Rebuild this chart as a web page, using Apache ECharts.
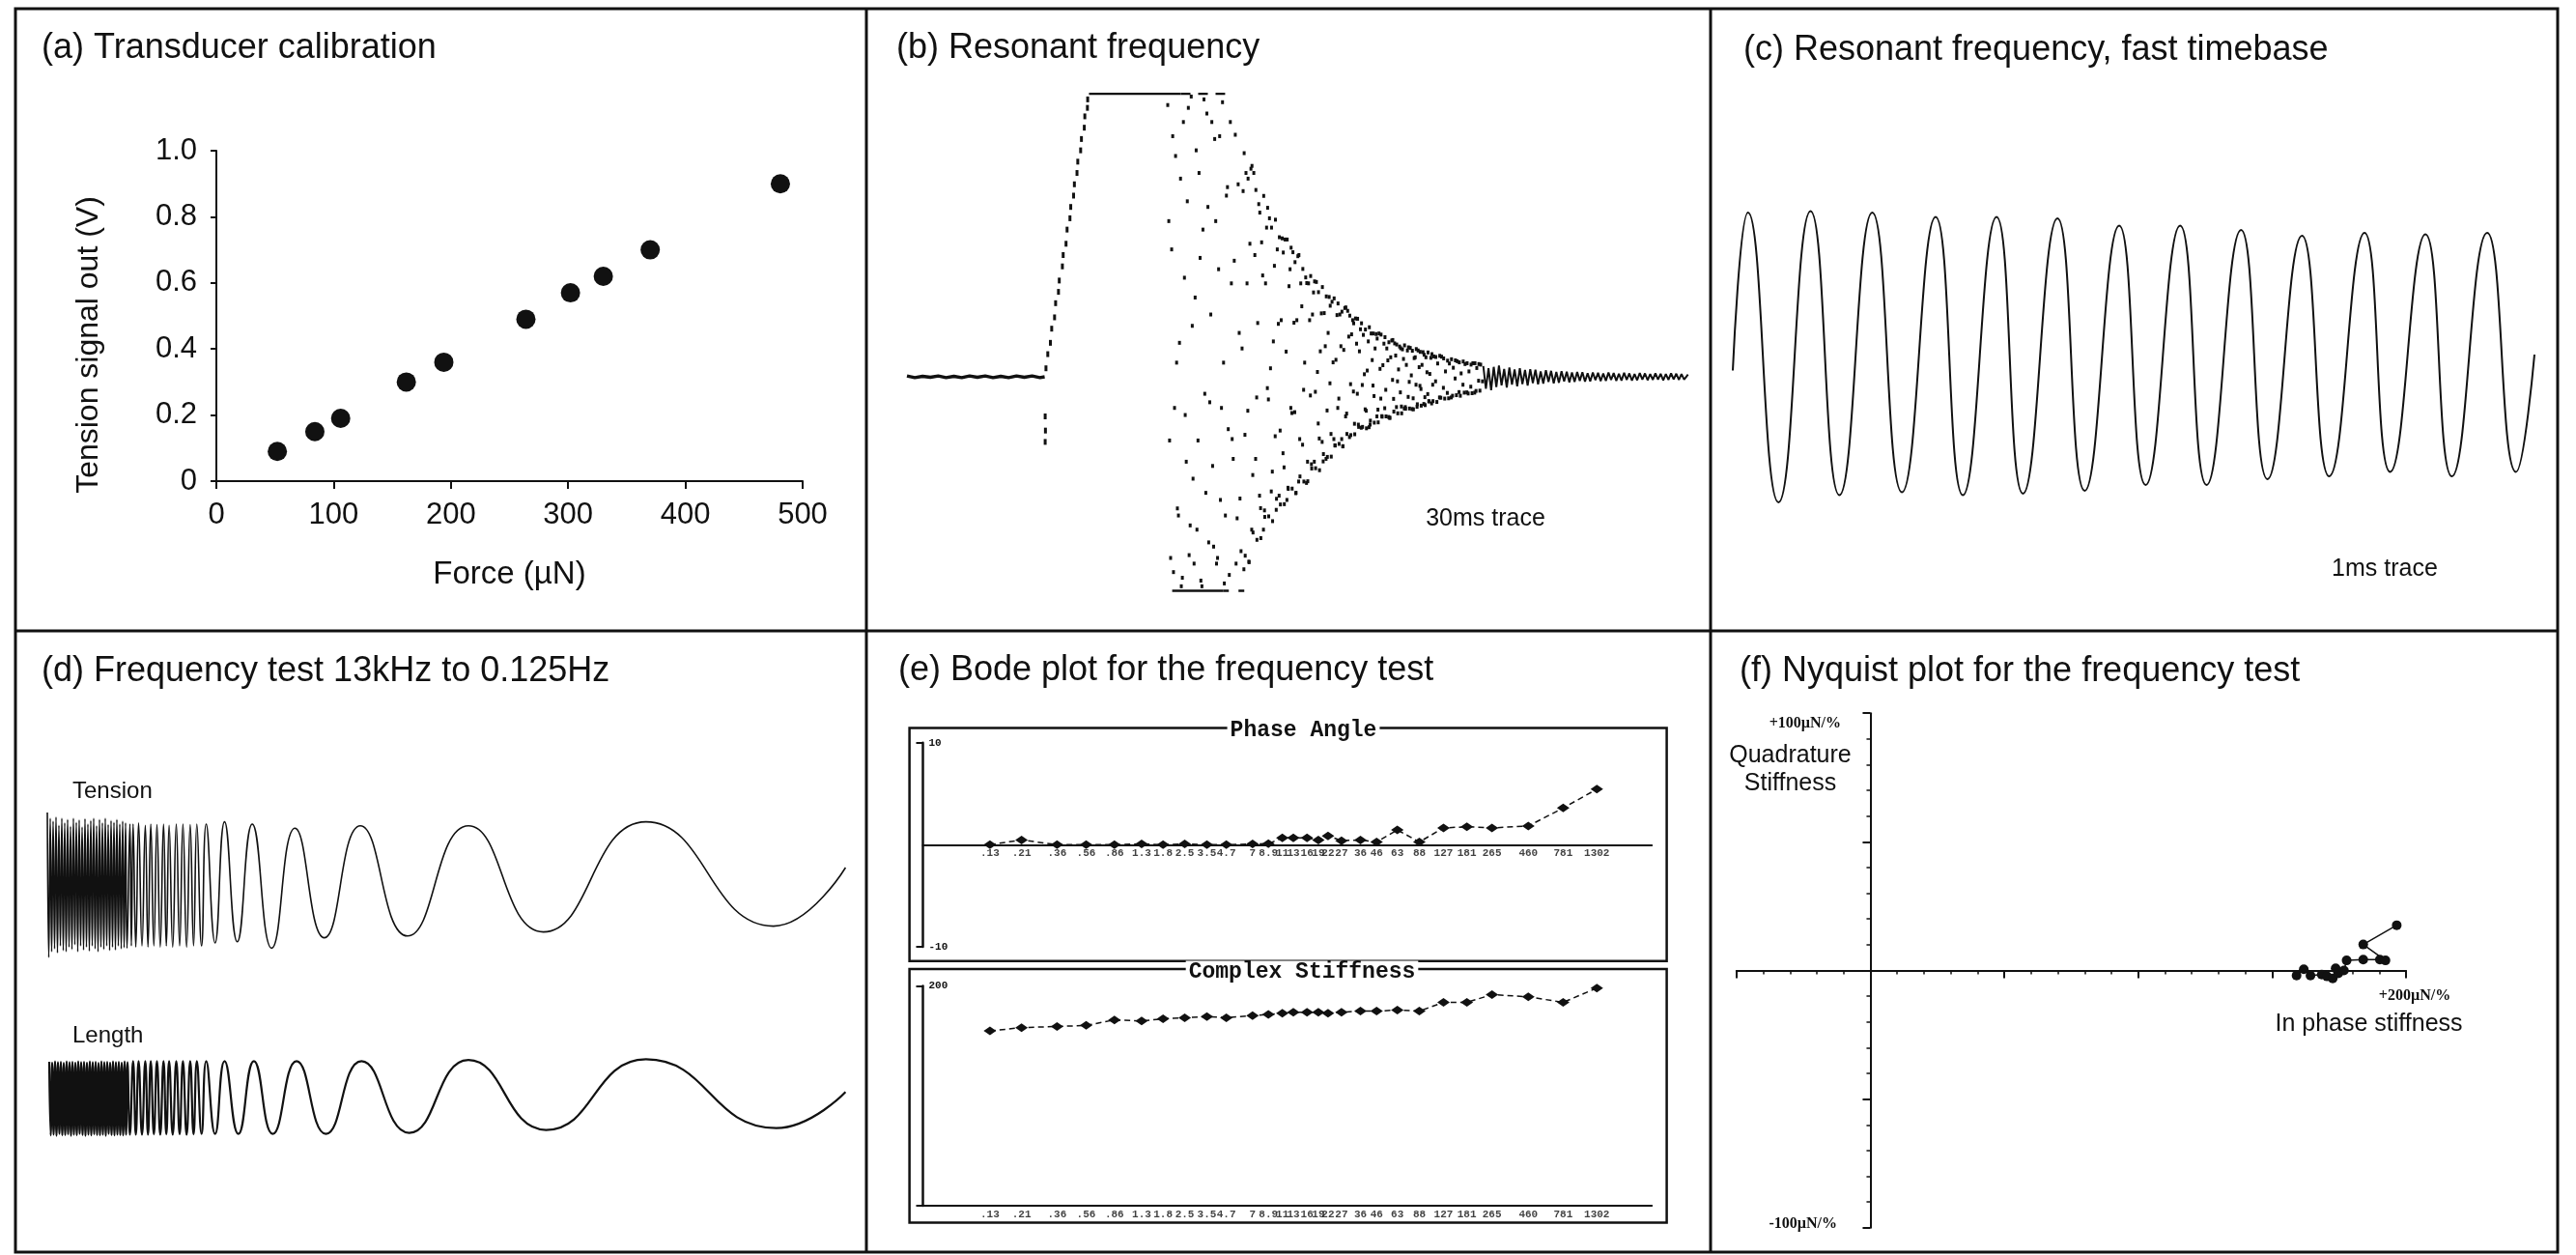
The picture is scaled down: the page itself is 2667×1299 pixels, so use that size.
<!DOCTYPE html>
<html>
<head>
<meta charset="utf-8">
<title>Transducer and frequency tests</title>
<script src="https://cdn.jsdelivr.net/npm/echarts@6/dist/echarts.min.js"></script>
<style>
  html, body { margin: 0; padding: 0; background: #fff; }
  #chart { width: 2667px; height: 1299px; }
</style>
</head>
<body>
<div id="chart"></div>
<script>
// ---------- (a) Transducer calibration ----------
const calForce  = [52, 84, 106, 162, 194, 264, 302, 330, 370, 481];
const calSignal = [0.09, 0.15, 0.19, 0.30, 0.36, 0.49, 0.57, 0.62, 0.70, 0.90];
const calXTicks = ['0', '100', '200', '300', '400', '500'];
const calYTicks = ['0', '0.2', '0.4', '0.6', '0.8', '1.0'];

// ---------- (b) Resonant frequency, 30 ms trace (time ms, signal) ----------
const resBaseline = [[0,0.003],[0.3,-0.003],[0.6,0.002],[0.9,-0.002],[1.2,0.003],[1.5,-0.003],[1.8,0.002],
  [2.1,-0.003],[2.4,0.003],[2.7,-0.002],[3.0,0.003],[3.3,-0.003],[3.6,0.002],[3.9,-0.003],[4.2,0.003],
  [4.5,-0.002],[4.8,0.003],[5.1,-0.003],[5.28,0.0]];
const resRamp = [[5.30,-0.14],[5.31,-0.19],[5.30,-0.23],[5.33,0.03],[5.40,0.08],[5.50,0.12],[5.55,0.17],
  [5.66,0.21],[5.70,0.26],[5.81,0.30],[5.84,0.34],[5.96,0.39],[5.99,0.43],[6.10,0.47],[6.14,0.52],
  [6.25,0.56],[6.28,0.60],[6.39,0.64],[6.42,0.68],[6.52,0.72],[6.55,0.76],[6.66,0.80],[6.69,0.84],
  [6.80,0.88],[6.82,0.92],[6.92,0.95],[6.93,0.98]];
const resTopRail = [[6.98,1.0],[10.5,1.0]];
const resTopRailBroken = [[10.5,1.0],[12.2,1.0]];
const resBottomRail = [[10.17,-0.756],[12.12,-0.756]];
const resBottomRailBroken = [[12.12,-0.756],[12.94,-0.756]];
const resFanCore = [[10.0,0.96],[10.07,-0.225],[10.15,0.45],[10.22,-0.69],[10.3,0.78],[10.37,-0.465],
  [10.45,0.12],[10.52,-0.74],[10.6,0.90],[10.67,-0.135],[10.75,0.62],[10.82,-0.63],[10.9,0.99],[10.97,-0.36],
  [11.05,0.28],[11.12,-0.54],[11.2,0.72],[11.27,-0.72],[11.35,0.52],[11.42,-0.06],[11.5,0.93],[11.57,-0.585],
  [11.65,0.22],[11.72,-0.315],[11.8,0.84],[11.87,-0.66],[11.95,0.38],[12.02,-0.435],[12.1,0.97],[12.17,-0.73],
  [12.25,0.64],[12.32,-0.185],[12.4,0.90],[12.47,-0.22],[12.55,0.41],[12.62,-0.66],[12.7,0.68],[12.77,-0.43],
  [12.85,0.10],[12.92,-0.68],[13.0,0.72],[13.07,-0.12],[13.15,0.47],[13.22,-0.54],[13.3,0.72],[13.37,-0.29],
  [13.45,0.19],[13.52,-0.42],[13.6,0.475],[13.67,-0.54],[13.75,0.33],[13.82,-0.04],[13.9,0.56],[13.97,-0.405],
  [14.05,0.125],[14.12,-0.21],[14.2,0.45],[14.27,-0.42],[14.35,0.20],[14.42,-0.27],[14.5,0.485],[14.57,-0.435],
  [14.65,0.32],[14.72,-0.11],[14.8,0.44],[14.87,-0.125],[14.95,0.20],[15.02,-0.37],[15.1,0.33],[15.17,-0.24],
  [15.25,0.05],[15.32,-0.375],[15.4,0.33],[15.47,-0.066],[15.55,0.22],[15.62,-0.30],[15.7,0.335],[15.77,-0.165],
  [15.85,0.09],[15.92,-0.23],[16.0,0.225],[16.07,-0.29],[16.15,0.155],[16.22,-0.023],[16.3,0.265],[16.37,-0.22],
  [16.45,0.06],[16.52,-0.11],[16.6,0.22],[16.67,-0.22],[16.75,0.095],[16.82,-0.14],[16.9,0.233],[16.97,-0.213],
  [17.05,0.15],[17.12,-0.052],[17.2,0.206],[17.27,-0.06],[17.35,0.09],[17.42,-0.18],[17.5,0.148],[17.57,-0.115],
  [17.65,0.022],[17.72,-0.178],[17.8,0.153],[17.87,-0.031],[17.95,0.10],[18.02,-0.14],[18.1,0.153],[18.17,-0.077],
  [18.25,0.041],[18.32,-0.111],[18.4,0.10],[18.47,-0.142],[18.55,0.069],[18.62,-0.011],[18.7,0.118],[18.77,-0.107],
  [18.85,0.026],[18.92,-0.055],[19.0,0.097],[19.07,-0.112],[19.15,0.042],[19.22,-0.071],[19.3,0.102],[19.37,-0.114],
  [19.45,0.066],[19.52,-0.028],[19.6,0.093],[19.67,-0.032],[19.75,0.042],[19.82,-0.096],[19.9,0.069],[19.97,-0.061],
  [20.05,0.01],[20.12,-0.094],[20.2,0.072],[20.27,-0.016],[20.35,0.047],[20.42,-0.073],[20.5,0.071],[20.57,-0.039],
  [20.65,0.019],[20.72,-0.057],[20.8,0.047],[20.87,-0.073],[20.95,0.032],[21.02,-0.006],[21.1,0.055],[21.17,-0.054],
  [21.25,0.012],[21.32,-0.028],[21.4,0.045],[21.47,-0.055],[21.55,0.019],[21.62,-0.035],[21.7,0.048],[21.77,-0.056],
  [21.85,0.031],[21.92,-0.014],[22.0,0.043],[22.07,-0.016]];
const resFanMid = [[10.04,0.55],[10.11,-0.64],[10.19,0.85],[10.26,-0.11],[10.34,0.05],[10.41,-0.49],
  [10.49,0.70],[10.56,-0.71],[10.64,0.35],[10.71,-0.30],[10.79,0.95],[10.86,-0.525],[10.94,0.18],[11.01,-0.66],
  [11.09,0.80],[11.16,-0.225],[11.24,0.42],[11.31,-0.74],[11.39,0.98],[11.46,-0.41],[11.54,0.60],[11.61,-0.09],
  [11.69,0.90],[11.76,-0.60],[11.84,0.55],[11.91,-0.64],[11.99,0.85],[12.06,-0.11],[12.14,0.05],[12.21,-0.49],
  [12.29,0.67],[12.36,-0.70],[12.44,0.33],[12.51,-0.29],[12.59,0.855],[12.66,-0.50],[12.74,0.155],[12.81,-0.616],
  [12.89,0.656],[12.96,-0.205],[13.04,0.33],[13.11,-0.653],[13.19,0.735],[13.26,-0.347],[13.34,0.43],[13.41,-0.073],
  [13.49,0.61],[13.56,-0.464],[13.64,0.358],[13.71,-0.472],[13.79,0.527],[13.86,-0.08],[13.94,0.03],[14.01,-0.335],
  [14.09,0.392],[14.16,-0.47],[14.24,0.187],[14.31,-0.19],[14.39,0.489],[14.46,-0.32],[14.54,0.089],[14.61,-0.392],
  [14.69,0.38],[14.76,-0.128],[14.84,0.191],[14.91,-0.411],[14.99,0.426],[15.06,-0.22],[15.14,0.249],[15.21,-0.046],
  [15.29,0.351],[15.36,-0.30],[15.44,0.20],[15.51,-0.309],[15.59,0.298],[15.66,-0.053],[15.74,0.017],[15.81,-0.218],
  [15.89,0.224],[15.96,-0.299],[16.04,0.108],[16.11,-0.119],[16.19,0.282],[16.26,-0.202],[16.34,0.051],[16.41,-0.242],
  [16.49,0.218],[16.56,-0.077],[16.64,0.108],[16.71,-0.246],[16.79,0.243],[16.86,-0.13],[16.94,0.142],[17.01,-0.026],
  [17.09,0.20],[17.16,-0.166],[17.24,0.117],[17.31,-0.169],[17.39,0.168],[17.46,-0.029],[17.54,0.009],[17.61,-0.12],
  [17.69,0.125],[17.76,-0.169],[17.84,0.059],[17.91,-0.068],[17.99,0.151],[18.06,-0.116],[18.14,0.028],[18.21,-0.139],
  [18.29,0.117],[18.36,-0.046],[18.44,0.058],[18.51,-0.145],[18.59,0.128],[18.66,-0.078],[18.74,0.075],[18.81,-0.016],
  [18.89,0.107],[18.96,-0.105],[19.04,0.063],[19.11,-0.107],[19.19,0.093],[19.26,-0.018],[19.34,0.005],[19.41,-0.076],
  [19.49,0.069],[19.56,-0.106],[19.64,0.034],[19.71,-0.043],[19.79,0.087],[19.86,-0.072],[19.94,0.016],[20.01,-0.086],
  [20.09,0.067],[20.16,-0.028]];
const resFanEdge = [[12.93,0.79],[12.97,-0.632],[13.08,0.70],[13.12,-0.655],[13.23,0.745],[13.27,-0.55],
  [13.38,0.66],[13.42,-0.576],[13.53,0.58],[13.57,-0.57],[13.68,0.639],[13.72,-0.495],[13.83,0.597],[13.87,-0.493],
  [13.98,0.527],[14.02,-0.51],[14.13,0.555],[14.17,-0.431],[14.28,0.493],[14.32,-0.451],[14.43,0.439],[14.47,-0.45],
  [14.58,0.485],[14.62,-0.396],[14.73,0.456],[14.77,-0.395],[14.88,0.405],[14.92,-0.41],[15.03,0.43],[15.07,-0.352],
  [15.18,0.381],[15.22,-0.37],[15.33,0.331],[15.37,-0.369],[15.48,0.356],[15.52,-0.324],[15.63,0.337],[15.67,-0.323],
  [15.78,0.299],[15.82,-0.33],[15.93,0.317],[15.97,-0.273],[16.08,0.284],[16.12,-0.283],[16.23,0.251],[16.27,-0.282],
  [16.38,0.277],[16.42,-0.243],[16.53,0.259],[16.57,-0.237],[16.68,0.23],[16.72,-0.245],[16.83,0.245],[16.87,-0.202],
  [16.98,0.216],[17.02,-0.206],[17.13,0.189],[17.17,-0.203],[17.28,0.205],[17.32,-0.177],[17.43,0.189],[17.47,-0.177],
  [17.58,0.167],[17.62,-0.182],[17.73,0.175],[17.77,-0.155],[17.88,0.153],[17.92,-0.162],[18.03,0.135],[18.07,-0.161],
  [18.18,0.149],[18.22,-0.141],[18.33,0.14],[18.37,-0.14],[18.48,0.122],[18.52,-0.145],[18.63,0.13],[18.67,-0.123],
  [18.78,0.114],[18.82,-0.129],[18.93,0.101],[18.97,-0.129],[19.08,0.111],[19.12,-0.113],[19.23,0.104],[19.27,-0.112],
  [19.38,0.092],[19.42,-0.115],[19.53,0.098],[19.57,-0.097],[19.68,0.088],[19.72,-0.102],[19.83,0.078],[19.87,-0.1],
  [19.98,0.086],[20.02,-0.087],[20.13,0.08],[20.17,-0.086],[20.28,0.07],[20.32,-0.089],[20.43,0.074],[20.47,-0.074],
  [20.58,0.065],[20.62,-0.077],[20.73,0.057],[20.77,-0.076],[20.88,0.062],[20.92,-0.067],[21.03,0.058],[21.07,-0.065],
  [21.18,0.051],[21.22,-0.067],[21.33,0.054],[21.37,-0.056],[21.48,0.048],[21.52,-0.059],[21.63,0.043],[21.67,-0.058],
  [21.78,0.048],[21.82,-0.05],[21.93,0.045],[21.97,-0.049]];
const resTail = [[22.1,0.038],[22.2,-0.042],[22.3,0.030],[22.4,-0.047],[22.5,0.035],[22.6,-0.036],[22.7,0.040],
  [22.8,-0.030],[22.9,0.028],[23.0,-0.038],[23.1,0.033],[23.2,-0.028],[23.3,0.026],[23.4,-0.034],[23.5,0.030],
  [23.6,-0.026],[23.7,0.024],[23.8,-0.031],[23.9,0.027],[24.0,-0.022],[24.1,0.025],[24.2,-0.027],[24.3,0.019],
  [24.4,-0.024],[24.5,0.023],[24.6,-0.018],[24.7,0.021],[24.8,-0.023],[24.9,0.017],[25.0,-0.021],[25.1,0.020],
  [25.2,-0.016],[25.3,0.018],[25.4,-0.020],[25.5,0.015],[25.6,-0.018],[25.7,0.017],[25.8,-0.014],[25.9,0.016],
  [26.0,-0.017],[26.1,0.013],[26.2,-0.016],[26.3,0.015],[26.4,-0.012],[26.5,0.014],[26.6,-0.015],[26.7,0.012],
  [26.8,-0.014],[26.9,0.015],[27.0,-0.011],[27.1,0.013],[27.2,-0.014],[27.3,0.011],[27.4,-0.013],[27.5,0.014],
  [27.6,-0.011],[27.7,0.012],[27.8,-0.013],[27.9,0.010],[28.0,-0.012],[28.1,0.013],[28.2,-0.010],[28.3,0.012],
  [28.4,-0.012],[28.5,0.010],[28.6,-0.011],[28.7,0.012],[28.8,-0.010],[28.9,0.011],[29.0,-0.012],[29.1,0.010],
  [29.2,-0.011],[29.3,0.012],[29.4,-0.009],[29.5,0.011],[29.6,-0.011],[29.7,0.010],[29.8,-0.010],[29.95,0.008]];

// ---------- (c) Resonant frequency, 1 ms trace (time us, signal) ----------
const fastTime  = [0, 19, 57, 97, 133, 174, 211, 253, 287, 329, 362, 405, 439, 482, 515, 558, 591, 634, 667, 710, 744, 788, 820, 864, 897, 941, 977, 1000];
const fastValue = [-0.09, 1.00, -1.00, 1.01, -0.95, 1.00, -0.93, 0.97, -0.95, 0.97, -0.94, 0.96, -0.92, 0.91, -0.88, 0.91, -0.88, 0.88, -0.84, 0.84, -0.82, 0.86, -0.79, 0.85, -0.82, 0.86, -0.79, 0.02];

// ---------- (d) Frequency sweep 13 kHz to 0.125 Hz (sample position, signal) ----------
const sweepTension = [[0,1.2],[1.5,-1.3],[3,1.1],[4.5,-1.2],[6,1.05],[7.5,-1.15],[9,1.12],[10.5,-1.22],[12,0.98],
  [13.5,-1.1],[15,1.1],[16.5,-1.18],[18,1.02],[19.5,-1.2],[21,1.08],[22.5,-1.12],[24,0.96],[25.5,-1.16],[27,1.1],
  [28.5,-1.08],[30,1.03],[31.5,-1.2],[33,1.07],[34.5,-1.1],[36,0.95],[37.5,-1.17],[39,1.09],[40.5,-1.12],[42,1.0],
  [43.5,-1.19],[45,1.06],[46.5,-1.1],[48,1.1],[49.5,-1.15],[51,0.97],[52.5,-1.2],[54,1.08],[55.5,-1.12],[57,1.02],
  [58.5,-1.16],[60,1.1],[61.5,-1.1],[63,0.99],[64.5,-1.18],[66,1.06],[67.5,-1.12],[69,1.03],[70.5,-1.17],[72,1.08],
  [73.5,-1.1],[75,1.0],[76.5,-1.15],[78,1.05],[79.5,-1.13],[81,1.02],[82.5,-1.14],[85.5,1.0],[87,-1.1],[88.8,1.0],
  [91.6,-1.12],[94.5,1.02],[98,-1.1],[101.4,0.98],[104.2,-1.12],[107.1,1.0],[110.3,-1.1],[113.5,0.99],[116.9,-1.12],
  [120.3,1.0],[123.2,-1.1],[126.1,0.98],[129.8,-1.12],[133.5,1.0],[137,-1.1],[140.4,1.0],[144.2,-1.12],[147.9,0.99],
  [151.4,-1.1],[154.8,1.0],[159.7,-1.1],[164.5,1.0],[173.7,-1.05],[183.5,1.04],[196.7,-1.03],[212.2,1.0],
  [232.3,-1.14],[256.4,0.93],[286.8,-0.96],[324.1,0.97],[372.9,-0.93],[436,0.97],[513.6,-0.86],[619.8,1.04],
  [751.8,-0.76],[826.4,0.25]];
const sweepLength = [[2,0.98],[3.5,-1.04],[5,0.96],[6.5,-1.02],[8,0.99],[9.5,-1.05],[11,0.97],[12.5,-1.0],[14,0.98],
  [15.5,-1.04],[17,0.95],[18.5,-1.03],[20,0.99],[21.5,-1.01],[23,0.97],[24.5,-1.05],[26,0.98],[27.5,-1.02],[29,0.96],
  [30.5,-1.04],[32,0.99],[33.5,-1.0],[35,0.97],[36.5,-1.03],[38,0.98],[39.5,-1.05],[41,0.96],[42.5,-1.02],[44,0.99],
  [45.5,-1.04],[47,0.97],[48.5,-1.01],[50,0.98],[51.5,-1.03],[53,0.95],[54.5,-1.04],[56,0.99],[57.5,-1.02],[59,0.97],
  [60.5,-1.05],[62,0.98],[63.5,-1.0],[65,0.96],[66.5,-1.03],[68,0.99],[69.5,-1.04],[71,0.97],[72.5,-1.02],[74,0.98],
  [75.5,-1.03],[77,0.96],[78.5,-1.04],[80,0.99],[81.5,-1.02],[83,0.97],[85.5,-1.02],[88.8,1.0],[91.6,-1.02],
  [94.5,1.0],[98,-1.02],[101.4,1.0],[104.2,-1.02],[107.1,1.0],[110.3,-1.01],[113.5,1.0],[116.9,-1.02],[120.3,1.0],
  [123.2,-1.01],[126.1,1.0],[129.8,-1.02],[133.5,1.0],[137,-1.01],[140.4,1.0],[144.2,-1.02],[147.9,1.0],[151.4,-1.01],
  [154.8,1.0],[159.7,-1.0],[164.5,1.0],[173.7,-1.0],[183.5,1.0],[197.8,-1.0],[213.9,1.0],[233.4,-1.0],[258.1,1.0],
  [288.5,-1.0],[325.3,1.0],[374.7,-0.97],[436,1.03],[516.4,-0.89],[619.8,1.05],[754.7,-0.84],[826.4,0.15]];

// ---------- (e) Bode plot ----------
const bodeFreq = [0.13, 0.21, 0.36, 0.56, 0.86, 1.3, 1.8, 2.5, 3.5, 4.7, 7.0, 8.9, 11, 13, 16, 19, 22, 27, 36, 46, 63, 88, 127, 181, 265, 460, 781, 1302];
const bodeTickLabels = ['.13', '.21', '.36', '.56', '.86', '1.3', '1.8', '2.5', '3.5', '4.7', '7', '8.9', '11', '13', '16', '19', '22', '27', '36', '46', '63', '88', '127', '181', '265', '460', '781', '1302'];
const bodePhase = [0, 0.47, 0, 0, 0, 0.08, 0, 0.08, 0, 0, 0.08, 0.1, 0.67, 0.67, 0.67, 0.47, 0.86, 0.4, 0.47, 0.27, 1.45, 0.27, 1.65, 1.76, 1.65, 1.84, 3.6, 5.45];
const bodeStiffness = [159, 162, 163, 164, 169, 168, 170, 171, 172, 171, 173, 174, 175, 176, 176, 176, 175, 176, 177, 177, 178, 177, 185, 185, 192, 190, 185, 198];

// ---------- (f) Nyquist plot ----------
const nyqInPhase = [159.1, 161.8, 164.3, 168.5, 170.5, 172.6, 173.7, 174.7, 176.8, 177.8, 184.0, 190.2, 192.3, 184.0, 196.5];
const nyqQuad    = [-2.0, 0.5, -2.0, -1.6, -2.3, -3.1, 0.8, -1.1, 0.0, 3.9, 4.2, 4.2, 3.9, 10.1, 17.6];
const nyqAxisEnds = ['+100µN/%', '-100µN/%', '+200µN/%'];

// ---------- styling ----------
const INK = '#111';
const SANS = '"Liberation Sans", Arial, Helvetica, sans-serif';
const MONO = '"Liberation Mono", "DejaVu Sans Mono", monospace';
const SERIF = '"Liberation Serif", "DejaVu Serif", serif';

const zip = (xs, ys) => xs.map((x, i) => [x, ys[i]]);
const hiddenAxis = (gridIndex, min, max, extra) => Object.assign({ gridIndex, type: 'value', min, max, show: false }, extra || {});

function text(x, y, str, size, opts) {
  return {
    type: 'text', silent: true, z: 10,
    style: Object.assign({
      x, y, text: str, fill: INK, fontSize: size, fontFamily: SANS,
      align: 'left', verticalAlign: 'middle'
    }, opts || {})
  };
}
function line(x1, y1, x2, y2, w) {
  return { type: 'line', silent: true, shape: { x1, y1, x2, y2 }, style: { stroke: INK, lineWidth: w || 3 } };
}
function rect(x, y, w, h, lw) {
  return { type: 'rect', silent: true, shape: { x, y, width: w, height: h }, style: { fill: 'none', stroke: INK, lineWidth: lw || 2 } };
}

const chart = echarts.init(document.getElementById('chart'), null, { renderer: 'canvas' });

const option = {
  backgroundColor: '#fff',
  animation: false,
  grid: [
    { left: 224, top: 156, width: 607, height: 342 },      // 0 (a)
    { left: 939, top: 97, width: 810, height: 527.4 },     // 1 (b)
    { left: 1794, top: 190, width: 830, height: 360 },     // 2 (c)
    { left: 49, top: 835, width: 826, height: 156 },       // 3 (d) tension
    { left: 49, top: 1087, width: 826, height: 98 },       // 4 (d) length
    { left: 955.5, top: 768.8, width: 754.7, height: 211.1 }, // 5 (e) phase
    { left: 955.5, top: 1020.4, width: 754.7, height: 227.6 }, // 6 (e) stiffness
    { left: 1797.8, top: 738.2, width: 693.3, height: 532.6 }  // 7 (f) nyquist
  ],
  xAxis: [
    {
      gridIndex: 0, type: 'value', min: 0, max: 500, interval: 100,
      axisLine: { lineStyle: { color: INK, width: 2 } },
      axisTick: { length: 8, lineStyle: { color: INK, width: 2 } },
      axisLabel: { color: INK, fontSize: 31, fontFamily: SANS, margin: 20, formatter: v => calXTicks[Math.round(v / 100)] },
      splitLine: { show: false },
      name: 'Force (µN)', nameLocation: 'middle', nameGap: 80,
      nameTextStyle: { color: INK, fontSize: 33, fontFamily: SANS }
    },
    hiddenAxis(1, 0, 30),
    hiddenAxis(2, 0, 1000),
    hiddenAxis(3, 0, 826),
    hiddenAxis(4, 0, 826),
    {
      gridIndex: 5, type: 'log', logBase: 10, min: 0.047, max: 3000,
      axisLine: { onZero: true, lineStyle: { color: INK, width: 2 } },
      axisTick: { show: false }, axisLabel: { show: false }, splitLine: { show: false }
    },
    {
      gridIndex: 6, type: 'log', logBase: 10, min: 0.047, max: 3000,
      axisLine: { onZero: true, lineStyle: { color: INK, width: 2 } },
      axisTick: { show: false }, axisLabel: { show: false }, splitLine: { show: false }
    },
    {
      gridIndex: 7, type: 'value', min: -50, max: 200, interval: 50,
      axisLine: { onZero: true, lineStyle: { color: INK, width: 2 } },
      axisTick: { length: 8, lineStyle: { color: INK, width: 2 } },
      minorTick: { show: true, splitNumber: 5, length: 4, lineStyle: { color: INK, width: 1.5 } },
      axisLabel: { show: false },
      splitLine: { show: false }, minorSplitLine: { show: false }
    }
  ],
  yAxis: [
    {
      gridIndex: 0, type: 'value', min: 0, max: 1, interval: 0.2,
      axisLine: { show: true, lineStyle: { color: INK, width: 2 } },
      axisTick: { show: true, length: 6, lineStyle: { color: INK, width: 2 } },
      axisLabel: { color: INK, fontSize: 31, fontFamily: SANS, margin: 20, formatter: v => calYTicks[Math.round(v / 0.2)] },
      splitLine: { show: false },
      name: 'Tension signal out (V)', nameLocation: 'middle', nameGap: 116,
      nameTextStyle: { color: INK, fontSize: 32, fontFamily: SANS, padding: [0, 60, 0, 0] }
    },
    hiddenAxis(1, -0.8, 1.0),
    hiddenAxis(2, -1.2, 1.2),
    hiddenAxis(3, -1.3, 1.3),
    hiddenAxis(4, -1.3, 1.3),
    {
      gridIndex: 5, type: 'value', min: -10, max: 10, interval: 20,
      axisLine: { show: true, onZero: false, lineStyle: { color: INK, width: 2.5 } },
      axisTick: { show: true, length: 7, lineStyle: { color: INK, width: 2 } },
      axisLabel: { inside: true, color: INK, fontSize: 11, fontWeight: 'bold', fontFamily: MONO, margin: 6 },
      splitLine: { show: false }
    },
    {
      gridIndex: 6, type: 'value', min: 0, max: 200, interval: 200,
      axisLine: { show: true, onZero: false, lineStyle: { color: INK, width: 2.5 } },
      axisTick: { show: true, length: 7, lineStyle: { color: INK, width: 2 } },
      axisLabel: { inside: true, color: INK, fontSize: 11, fontWeight: 'bold', fontFamily: MONO, margin: 6,
        formatter: v => (v === 200 ? '200' : '') },
      splitLine: { show: false }
    },
    {
      gridIndex: 7, type: 'value', min: -100, max: 100, interval: 50,
      axisLine: { show: true, onZero: true, lineStyle: { color: INK, width: 2 } },
      axisTick: { show: true, length: 8, lineStyle: { color: INK, width: 2 } },
      minorTick: { show: true, splitNumber: 5, length: 4, lineStyle: { color: INK, width: 1.5 } },
      axisLabel: { show: false },
      splitLine: { show: false }, minorSplitLine: { show: false }
    }
  ],
  series: [
    // (a)
    { type: 'scatter', xAxisIndex: 0, yAxisIndex: 0, data: zip(calForce, calSignal),
      symbol: 'circle', symbolSize: 20, itemStyle: { color: INK, opacity: 1 } },
    // (b)
    { type: 'line', xAxisIndex: 1, yAxisIndex: 1, data: resBaseline, showSymbol: false,
      lineStyle: { color: INK, width: 3.5 } },
    { type: 'scatter', xAxisIndex: 1, yAxisIndex: 1, data: resRamp, symbol: 'rect', symbolSize: [3, 6],
      itemStyle: { color: INK, opacity: 1 } },
    { type: 'line', xAxisIndex: 1, yAxisIndex: 1, data: resTopRail, showSymbol: false,
      lineStyle: { color: INK, width: 2.5 } },
    { type: 'line', xAxisIndex: 1, yAxisIndex: 1, data: resTopRailBroken, showSymbol: false,
      lineStyle: { color: INK, width: 2.5, type: [10, 8] } },
    { type: 'line', xAxisIndex: 1, yAxisIndex: 1, data: resBottomRail, showSymbol: false,
      lineStyle: { color: INK, width: 2.5 } },
    { type: 'line', xAxisIndex: 1, yAxisIndex: 1, data: resBottomRailBroken, showSymbol: false,
      lineStyle: { color: INK, width: 2.5, type: [6, 10] } },
    { type: 'scatter', xAxisIndex: 1, yAxisIndex: 1, data: resFanCore.concat(resFanMid, resFanEdge),
      symbol: 'rect', symbolSize: [3, 4], itemStyle: { color: INK, opacity: 1 } },
    { type: 'line', xAxisIndex: 1, yAxisIndex: 1, data: resTail, showSymbol: false,
      lineStyle: { color: INK, width: 2 } },
    // (c)
    { type: 'line', xAxisIndex: 2, yAxisIndex: 2, data: zip(fastTime, fastValue), smooth: 0.5,
      showSymbol: false, lineStyle: { color: INK, width: 2 } },
    // (d)
    { type: 'line', xAxisIndex: 3, yAxisIndex: 3, data: sweepTension, smooth: 0.5,
      showSymbol: false, lineStyle: { color: INK, width: 1.6 } },
    { type: 'line', xAxisIndex: 4, yAxisIndex: 4, data: sweepLength, smooth: 0.5,
      showSymbol: false, lineStyle: { color: INK, width: 2.2 } },
    // (e) phase angle
    { type: 'line', xAxisIndex: 5, yAxisIndex: 5, data: zip(bodeFreq, bodePhase),
      symbol: 'diamond', symbolSize: [13, 9], itemStyle: { color: INK },
      lineStyle: { color: INK, width: 1.5, type: [6, 4] } },
    { type: 'scatter', xAxisIndex: 5, yAxisIndex: 5, data: bodeFreq.map(f => [f, 0]),
      symbol: 'circle', symbolSize: 1, itemStyle: { color: 'rgba(0,0,0,0)' }, z: 1,
      label: { show: true, position: 'bottom', distance: 3, color: INK, fontSize: 11, fontWeight: 'bold', fontFamily: MONO,
        formatter: p => bodeTickLabels[p.dataIndex] } },
    // (e) complex stiffness
    { type: 'line', xAxisIndex: 6, yAxisIndex: 6, data: zip(bodeFreq, bodeStiffness),
      symbol: 'diamond', symbolSize: [13, 9], itemStyle: { color: INK },
      lineStyle: { color: INK, width: 1.5, type: [6, 4] } },
    { type: 'scatter', xAxisIndex: 6, yAxisIndex: 6, data: bodeFreq.map(f => [f, 0]),
      symbol: 'circle', symbolSize: 1, itemStyle: { color: 'rgba(0,0,0,0)' }, z: 1,
      label: { show: true, position: 'bottom', distance: 3, color: INK, fontSize: 11, fontWeight: 'bold', fontFamily: MONO,
        formatter: p => bodeTickLabels[p.dataIndex] } },
    // (f)
    { type: 'line', xAxisIndex: 7, yAxisIndex: 7, data: zip(nyqInPhase, nyqQuad),
      symbol: 'circle', symbolSize: 10, itemStyle: { color: INK }, lineStyle: { color: INK, width: 1.5 } }
  ],
  graphic: [
    // panel frames
    rect(16, 9, 2632, 1287, 3),
    line(897, 9, 897, 1296, 3),
    line(1771, 9, 1771, 1296, 3),
    line(16, 653, 2648, 653, 3),
    // bode sub-frames
    rect(941.6, 753.5, 784, 241.3, 2.5),
    rect(941.6, 1003, 784, 262.5, 2.5),
    // panel titles
    text(43, 50, '(a) Transducer calibration', 36),
    text(928, 50, '(b) Resonant frequency', 36),
    text(1805, 52, '(c) Resonant frequency, fast timebase', 36),
    text(43, 695, '(d) Frequency test 13kHz to 0.125Hz', 36),
    text(930, 694, '(e) Bode plot for the frequency test', 36),
    text(1801, 695, '(f) Nyquist plot for the frequency test', 36),
    // annotations
    text(1538, 537, '30ms trace', 25, { align: 'center' }),
    text(2469, 589, '1ms trace', 25, { align: 'center' }),
    text(75, 819, 'Tension', 24),
    text(75, 1072, 'Length', 24),
    text(1349.5, 756, 'Phase Angle', 23, { align: 'center', fontFamily: MONO, fontWeight: 'bold', backgroundColor: '#fff', padding: [0, 3] }),
    text(1348, 1006, 'Complex Stiffness', 23, { align: 'center', fontFamily: MONO, fontWeight: 'bold', backgroundColor: '#fff', padding: [0, 3] }),
    text(1853.5, 782.5, 'Quadrature', 25, { align: 'center' }),
    text(1853.5, 811, 'Stiffness', 25, { align: 'center' }),
    text(2452.5, 1060, 'In phase stiffness', 25, { align: 'center' }),
    // nyquist axis end labels
    text(1906, 749, nyqAxisEnds[0], 16, { align: 'right', fontFamily: SERIF, fontWeight: 'bold' }),
    text(1902, 1267, nyqAxisEnds[1], 16, { align: 'right', fontFamily: SERIF, fontWeight: 'bold' }),
    text(2500, 1031, nyqAxisEnds[2], 16, { align: 'center', fontFamily: SERIF, fontWeight: 'bold' })
  ]
};

chart.setOption(option);
</script>
</body>
</html>
